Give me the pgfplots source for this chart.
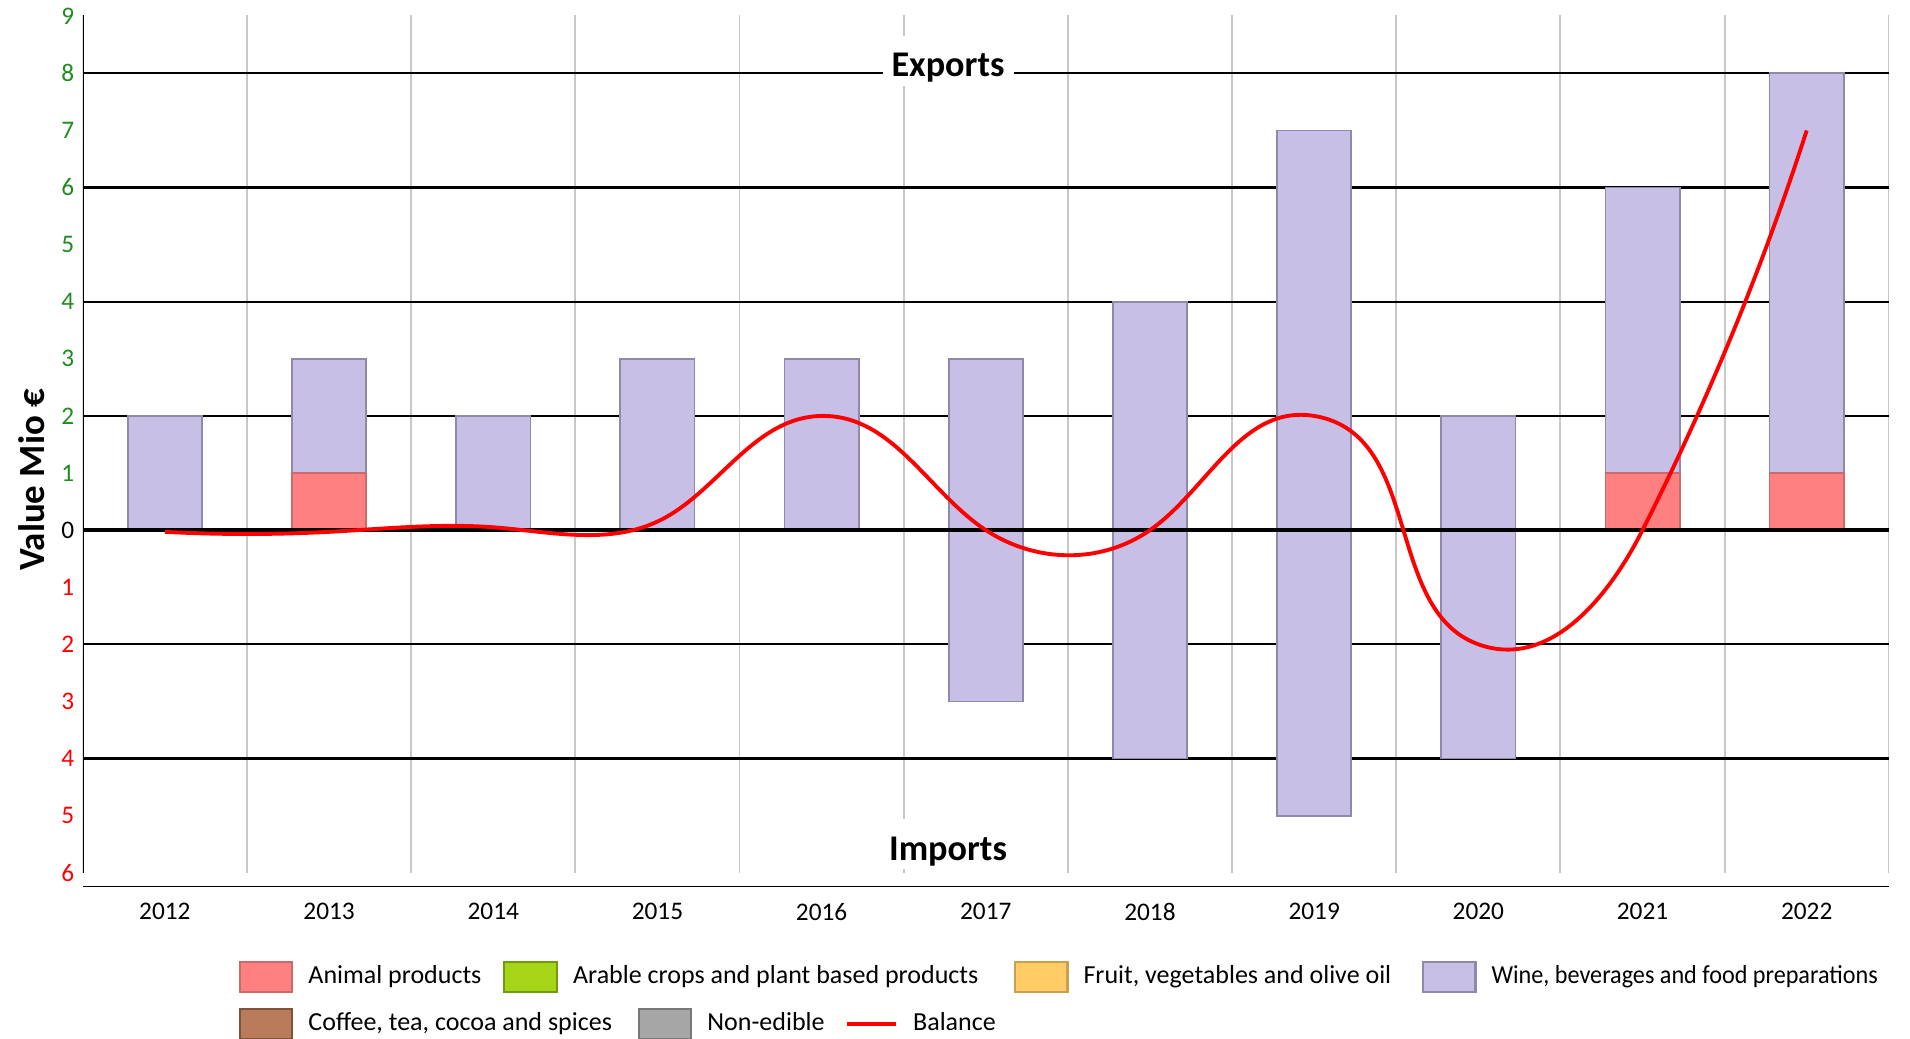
\documentclass[border=0pt]{standalone}
\usepackage{fontspec}
\setmainfont{Carlito}
\usepackage{pgfplots}
\usepackage{pgfplotstable}
\usetikzlibrary{hobby}
\pgfplotsset{compat=1.18}

\definecolor{wineF}{HTML}{C7BFE6}
\definecolor{wineD}{HTML}{8F89AB}
\definecolor{animF}{HTML}{FF8080}
\definecolor{animD}{HTML}{CC6A6A}
\definecolor{arabF}{HTML}{A6D416}
\definecolor{arabD}{HTML}{6E9B10}
\definecolor{fruitF}{HTML}{FFCC66}
\definecolor{fruitD}{HTML}{C9A04E}
\definecolor{cofF}{HTML}{B97B5A}
\definecolor{cofD}{HTML}{7F5239}
\definecolor{nonF}{HTML}{A6A6A6}
\definecolor{nonD}{HTML}{787878}
\definecolor{tgreen}{HTML}{1E8C1E}
\definecolor{tred}{HTML}{FF0000}
\definecolor{vgrid}{HTML}{C8C8C8}

% x = position, E = exports, I = imports (negative), bal = balance
\pgfplotstableread{
x year cofE nonE animE arabE fruitE wineE cofI nonI animI arabI fruitI wineI bal
0  2012 0 0 0 0 0 2 0 0 0 0 0  0 -0.03
1  2013 0 0 1 0 0 2 0 0 0 0 0  0 -0.03
2  2014 0 0 0 0 0 2 0 0 0 0 0  0  0.05
3  2015 0 0 0 0 0 3 0 0 0 0 0  0  0.15
4  2016 0 0 0 0 0 3 0 0 0 0 0  0  2
5  2017 0 0 0 0 0 3 0 0 0 0 0 -3  0
6  2018 0 0 0 0 0 4 0 0 0 0 0 -4  0
7  2019 0 0 0 0 0 7 0 0 0 0 0 -5  2
8  2020 0 0 0 0 0 2 0 0 0 0 0 -4 -2
9  2021 0 0 1 0 0 5 0 0 0 0 0  0  0
10 2022 0 0 1 0 0 7 0 0 0 0 0  0  7
}\data

\pgfplotsset{
  base/.style={
    scale only axis, width=180.6mm, height=87.25mm,
    xmin=-0.5, xmax=10.5, ymin=-6.25, ymax=9.03,
    at={(0,0)}, anchor=south west,
  },
  layer/.style={base, hide axis},
  mybox/.style={legend image code/.code={\draw[##1, line width=0.6pt] (0mm,-1.5mm) rectangle (5.27mm,1.5mm);}},
  myline/.style={legend image code/.code={\draw[##1] (0mm,0mm) -- (4.9mm,0mm);}},
  leg/.style={legend columns=-1,
    legend style={draw=none, fill=none, inner sep=0pt, anchor=west,
      font=\fontsize{7.4}{8.8}\selectfont, nodes={inner sep=0pt},
      /tikz/every odd column/.append style={column sep=1.5mm}}},
  bars/.style={ybar stacked, bar width=7.43mm},
  barline/.style={line width=0.5pt},
}

\begin{document}
\begin{tikzpicture}
\path[use as bounding box] (-8.28mm,-15.2mm) rectangle (182.72mm,88.7mm);

% frame: ticks, labels, grid
\begin{axis}[base,
  axis line style={draw=none},
  xtick={0,...,10},
  xticklabels={2012,2013,2014,2015,2016,2017,2018,2019,2020,2021,2022},
  ytick={-6,...,9},
  yticklabels={\textcolor{tred}{6},\textcolor{tred}{5},\textcolor{tred}{4},\textcolor{tred}{3},\textcolor{tred}{2},\textcolor{tred}{1},0,
    \textcolor{tgreen}{1},\textcolor{tgreen}{2},\textcolor{tgreen}{3},\textcolor{tgreen}{4},\textcolor{tgreen}{5},\textcolor{tgreen}{6},\textcolor{tgreen}{7},\textcolor{tgreen}{8},\textcolor{tgreen}{9}},
  major tick length=0pt,
  tick label style={font=\fontsize{7.2}{8.6}\selectfont},
  xticklabel style={inner sep=0pt, yshift=-1.55mm, anchor=north},
  yticklabel style={inner sep=0pt, xshift=-0.8mm, anchor=east},
  ylabel={Value Mio €},
  ylabel style={at={(axis description cs:-0.0283,0.4665)}, anchor=center,
    font=\fontsize{10.5}{12}\selectfont\bfseries},
]
\pgfplotsinvokeforeach{0.5,1.5,...,10.5}{
  \draw[vgrid, line width=0.55pt] (axis cs:#1,-6.0) -- (axis cs:#1,9.03);
}
\pgfplotsinvokeforeach{-4,-2,2,4,6,8}{
  \draw[black, line width=0.6pt] (axis cs:-0.5,#1) -- (axis cs:10.5,#1);
}
\draw[black, line width=0.6pt] (axis cs:-0.5,-6.0) -- (axis cs:-0.5,9.03);
\draw[black, line width=0.6pt] (axis cs:-0.5,-6.25) -- (axis cs:10.5,-6.25);
\node[fill=white, anchor=base, inner xsep=0.9mm, inner ysep=0.9mm, text height=3.2mm, text depth=0pt,
  font=\fontsize{10.3}{12}\selectfont\bfseries] at (axis cs:4.77,7.94) {Exports};
\node[fill=white, anchor=base, inner xsep=0.9mm, inner ysep=0.9mm, text height=3.2mm, text depth=0pt,
  font=\fontsize{10.3}{12}\selectfont\bfseries] at (axis cs:4.77,-5.78) {Imports};
\end{axis}

% exports
\begin{axis}[layer, bars, leg, legend style={at={(axis description cs:0.0859,-0.1032)},
    /tikz/column 2/.style={column sep=2.19mm},
    /tikz/column 4/.style={column sep=3.53mm},
    /tikz/column 6/.style={column sep=3.05mm}}]
\addlegendimage{mybox, fill=animF, draw=animD}\addlegendentry{Animal products}
\addlegendimage{mybox, fill=arabF, draw=arabD}\addlegendentry{Arable crops and plant based products}
\addlegendimage{mybox, fill=fruitF, draw=fruitD}\addlegendentry{Fruit, vegetables and olive oil}
\addlegendimage{mybox, fill=wineF, draw=wineD}\addlegendentry{\scalebox{0.93}[1]{Wine, beverages and food preparations}}
\addplot[barline, fill=cofF, draw=cofD] table[x=x, y=cofE] {\data};
\addplot[barline, fill=nonF, draw=nonD] table[x=x, y=nonE] {\data};
\addplot[barline, fill=animF, draw=animD] table[x=x, y=animE] {\data};
\addplot[barline, fill=arabF, draw=arabD] table[x=x, y=arabE] {\data};
\addplot[barline, fill=fruitF, draw=fruitD] table[x=x, y=fruitE] {\data};
\addplot[barline, fill=wineF, draw=wineD] table[x=x, y=wineE] {\data};
\end{axis}

% imports
\begin{axis}[layer, bars, leg, legend style={at={(axis description cs:0.0859,-0.157)},
    /tikz/column 2/.style={column sep=2.56mm},
    /tikz/column 4/.style={column sep=2.07mm}}]
\addlegendimage{mybox, fill=cofF, draw=cofD}\addlegendentry{Coffee, tea, cocoa and spices}
\addlegendimage{mybox, fill=nonF, draw=nonD}\addlegendentry{Non-edible}
\addlegendimage{myline, tred, line width=1.1pt}\addlegendentry{Balance}
\addplot[barline, fill=cofF, draw=cofD] table[x=x, y=cofI] {\data};
\addplot[barline, fill=nonF, draw=nonD] table[x=x, y=nonI] {\data};
\addplot[barline, fill=animF, draw=animD] table[x=x, y=animI] {\data};
\addplot[barline, fill=arabF, draw=arabD] table[x=x, y=arabI] {\data};
\addplot[barline, fill=fruitF, draw=fruitD] table[x=x, y=fruitI] {\data};
\addplot[barline, fill=wineF, draw=wineD] table[x=x, y=wineI] {\data};
\end{axis}

% zero line and balance
\begin{axis}[layer]
\draw[black, line width=1.15pt] (axis cs:-0.5,0) -- (axis cs:10.5,0);
\addplot[tred, line width=1.1pt, hobby, no markers] table[x=x, y=bal] {\data};
\end{axis}
\end{tikzpicture}
\end{document}
